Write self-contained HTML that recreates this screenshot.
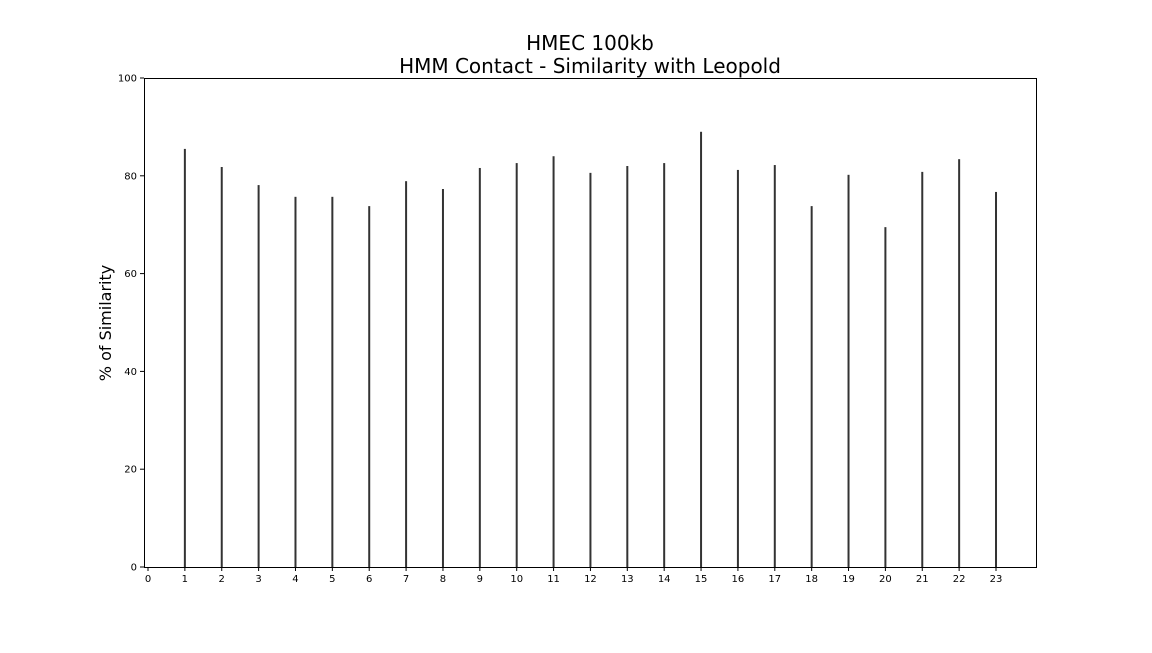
<!DOCTYPE html>
<html><head><meta charset="utf-8"><style>
body{margin:0;background:#fff;}
svg text{font-family:"DejaVu Sans","Liberation Sans",sans-serif;}
</style></head><body>
<svg id="chart" width="1152" height="648" xmlns="http://www.w3.org/2000/svg">
<rect width="1152" height="648" fill="#fff"/>
<text x="590" y="50" font-size="20" text-anchor="middle">HMEC 100kb</text>
<text x="590" y="73" font-size="20" text-anchor="middle">HMM Contact - Similarity with Leopold</text>
<text transform="translate(111,323) rotate(-90)" font-size="16" text-anchor="middle">% of Similarity</text>
<g id="bars"></g>
<g id="axes"></g>
<rect x="144.5" y="78.5" width="892" height="489" fill="none" stroke="#000" stroke-width="1"/>
</svg>
<script>
const categories=[1,2,3,4,5,6,7,8,9,10,11,12,13,14,15,16,17,18,19,20,21,22,23];
const values=[85.5,81.8,78.1,75.7,75.7,73.8,78.9,77.3,81.6,82.6,84.0,80.6,82.0,82.6,89.0,81.2,82.2,73.8,80.2,69.5,80.8,83.4,76.7];
const xTicks=[0,1,2,3,4,5,6,7,8,9,10,11,12,13,14,15,16,17,18,19,20,21,22,23];
const yTicks=[0,20,40,60,80,100];
const NS="http://www.w3.org/2000/svg";
const x=v=>148+v*36.87;
const y=v=>567-v*4.89;
const bars=document.getElementById('bars'),axes=document.getElementById('axes');
function mk(t,a,p){const e=document.createElementNS(NS,t);for(const k in a)e.setAttribute(k,a[k]);p.appendChild(e);return e;}
categories.forEach((c,i)=>{
 const r=mk('rect',{x:x(c)-1,y:y(values[i]),width:2,height:y(0)-y(values[i]),fill:'#333'},bars);
 
 
});
xTicks.forEach(t=>{
 const l=mk('line',{x1:x(t),x2:x(t),y1:567,y2:571,stroke:'#000'},axes);
 
 
 const tx=mk('text',{x:x(t),y:582,'font-size':10,'text-anchor':'middle'},axes);
 tx.textContent=t;
 
 
});
yTicks.forEach(t=>{
 const l=mk('line',{x1:140,x2:144,y1:y(t),y2:y(t),stroke:'#000'},axes);
 
 
 const tx=mk('text',{x:137,y:y(t)+3.5,'font-size':10,'text-anchor':'end'},axes);
 tx.textContent=t;
 
 
});
</script>
</body></html>
